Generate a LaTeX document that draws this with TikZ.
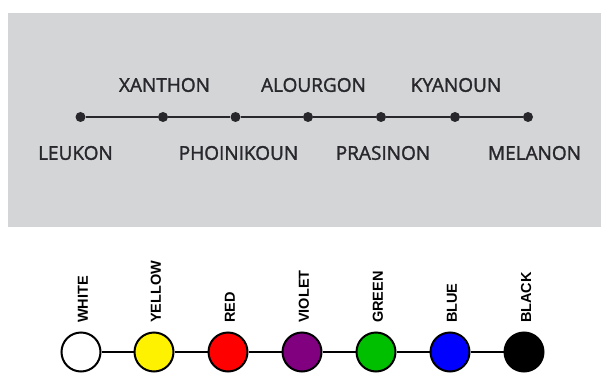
\documentclass[tikz,border=0pt]{standalone}
\usepackage{fontspec}
\setmainfont{Open Sans}
\newfontfamily\greekfont{Open Sans}[FakeBold=1.6]
\newfontfamily\arialbold{Liberation Sans Bold}
\definecolor{panelgray}{RGB}{211,213,215}
\definecolor{inkgray}{RGB}{40,40,44}
\definecolor{violetc}{RGB}{128,0,128}
\definecolor{greenc}{RGB}{0,190,0}
\tikzset{
  greekdot/.style={circle,fill=inkgray,inner sep=0pt,minimum size=10pt},
  greeklabel/.style={text=inkgray,font=\greekfont\fontsize{19}{19}\selectfont,inner sep=0pt},
  greekline/.style={draw=inkgray,line width=1.8pt},
  colordisc/.style={circle,draw=black,line width=2pt,minimum size=39pt,inner sep=0pt},
  colorlabel/.style={rotate=90,anchor=west,font=\arialbold\fontsize{14.5}{15}\selectfont,inner sep=0pt},
  discline/.style={draw=black,line width=2pt}
}
\begin{document}
\begin{tikzpicture}[x=1pt,y=-1pt]
\useasboundingbox (0,0) rectangle (601,374);
\fill[white] (0,0) rectangle (601,374);
\fill[panelgray] (8,13) rectangle (601,227);
% top dots
\foreach \i/\x in {1/80.5,2/163,3/235.5,4/308,5/381,6/455,7/528}{
  \node[greekdot] (d\i) at (\x,117) {};
}
\foreach \a/\b in {1/2,2/3,3/4,4/5,5/6,6/7}{
  \draw[greekline] (d\a) -- (d\b);
}
\node[greeklabel] (lx) at (164.5,85) {XANTHON};
\node[greeklabel] (la) at (313.5,85) {ALOURGON};
\node[greeklabel] (lk) at (456,85) {KYANOUN};
\node[greeklabel] (ll) at (75.5,153) {LEUKON};
\node[greeklabel] (lp) at (238.5,153) {PHOINIKOUN};
\node[greeklabel] (lr) at (383,153) {PRASINON};
\node[greeklabel] (lm) at (534.5,153) {MELANON};
% colour discs
\foreach \i/\x/\c in {1/81/white,2/154/yellow,3/228/red,4/302/violetc,5/376/greenc,6/450/blue,7/524/black}{
  \node[colordisc,fill=\c] (c\i) at (\x,352) {};
}
\foreach \a/\b in {1/2,2/3,3/4,4/5,5/6,6/7}{
  \draw[discline] (c\a) -- (c\b);
}
\node[colorlabel] (t1) at (83,323) {WHITE};
\node[colorlabel] (t2) at (156,323) {YELLOW};
\node[colorlabel] (t3) at (230,323) {RED};
\node[colorlabel] (t4) at (304,323) {VIOLET};
\node[colorlabel] (t5) at (378,323) {GREEN};
\node[colorlabel] (t6) at (452,323) {BLUE};
\node[colorlabel] (t7) at (526,323) {BLACK};
\end{tikzpicture}
\end{document}
